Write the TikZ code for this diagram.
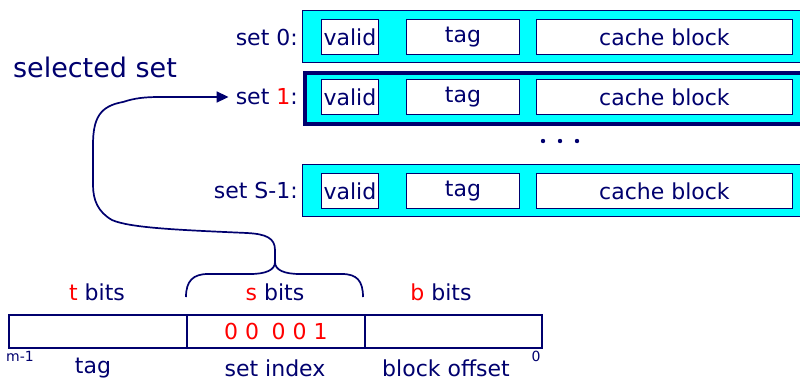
\documentclass[tikz,border=0pt]{standalone}
\usepackage{fontspec}
\setmainfont{DejaVu Sans}
\usetikzlibrary{arrows.meta}
\definecolor{navy}{RGB}{0,0,110}
\definecolor{cyanfill}{RGB}{0,255,255}
\definecolor{bitred}{RGB}{255,0,0}
\begin{document}
\begin{tikzpicture}[x=1pt,y=-1pt,
  txt/.style={text=navy, font=\fontsize{22}{24}\selectfont, inner sep=0pt},
  bigtxt/.style={text=navy, font=\fontsize{27}{30}\selectfont, inner sep=0pt},
  smalltxt/.style={text=navy, font=\fontsize{14}{16}\selectfont, inner sep=0pt},
  setrow/.style={draw=navy, fill=cyanfill, line width=1pt, inner sep=0pt, anchor=north west},
  selrow/.style={setrow, line width=3.5pt},
  field/.style={draw=navy, fill=white, line width=0.9pt, inner sep=0pt, anchor=north west,
    text=navy, font=\fontsize{22}{24}\selectfont},
  addr/.style={draw=navy, line width=1.8pt, inner sep=0pt, anchor=north west,
    minimum height=33pt, text=bitred, font=\fontsize{22}{24}\selectfont},
  conn/.style={draw=navy, line width=1.7pt},
]
\useasboundingbox (0,0) rectangle (800,381);

% set rows
\node[setrow, minimum width=499pt, minimum height=52pt] (row0) at (302,10) {};
\node[selrow, minimum width=498pt, minimum height=51pt] (row1) at (303,71) {};
\node[setrow, minimum width=499pt, minimum height=52pt] (rowS) at (302,164) {};

% fields
\foreach \r/\y in {0/19,1/79,S/173}{
  \node[field, minimum width=57pt, minimum height=35pt] (valid\r) at (321,\y) {valid};
  \node[field, minimum width=113pt, minimum height=35pt] (tag\r) at (406,\y) {tag};
  \node[field, minimum width=256pt, minimum height=35pt] (cache\r) at (536,\y) {cache block};
}

% set labels
\node[txt, anchor=east] (set0) at (298,37) {set 0:};
\node[txt, anchor=east] (set1) at (298,97) {set \textcolor{bitred}{1}:};
\node[txt, anchor=east] (setS) at (298,190) {set S-1:};

% dots
\fill[navy] (543,141) circle (2.2) (560,141) circle (2.2) (577,141) circle (2.2);

\node[bigtxt] (selected) at (95,67) {selected set};

% address
\node[addr, minimum width=178pt] (tagf) at (8,314) {};
\node[addr, minimum width=178pt] (setf) at (186,314) {0 0\hspace{0.25em} 0 0 1};
\node[addr, minimum width=177pt] (offf) at (364,314) {};

\node[txt] (tbits) at (97,292) {\textcolor{bitred}{t} bits};
\node[txt] (sbits) at (275,292) {\textcolor{bitred}{s} bits};
\node[txt] (bbits) at (441,292) {\textcolor{bitred}{b} bits};

\node[smalltxt] (msb) at (20,356) {m-1};
\node[txt] (tagl) at (93,368) {tag};
\node[txt] (setl) at (275,368) {set index};
\node[txt] (offl) at (446,368) {block offset};
\node[smalltxt] (lsb) at (536,356) {0};

% brace
\coordinate (tip) at (275,262);
\draw[conn] (186,297) .. controls (186,281) and (193,274) .. (208,274) -- (250,274)
  .. controls (266,274) and (275,270) .. (tip)
  .. controls (275,270) and (284,274) .. (300,274) -- (342,274)
  .. controls (357,274) and (363,281) .. (363,297);

% connector
\draw[conn, -{Triangle[length=12pt,width=11pt]}, shorten >=7pt]
  (tip) -- (275,250) .. controls (275,238) and (266,234) .. (247,233)
  .. controls (180,230) and (130,228) .. (112,220)
  .. controls (98,212) and (93,200) .. (93,185) -- (93,145)
  .. controls (93,118) and (100,106) .. (123,102)
  .. controls (135,98) and (145,97) .. (160,97) -- (set1.west);
\end{tikzpicture}
\end{document}
